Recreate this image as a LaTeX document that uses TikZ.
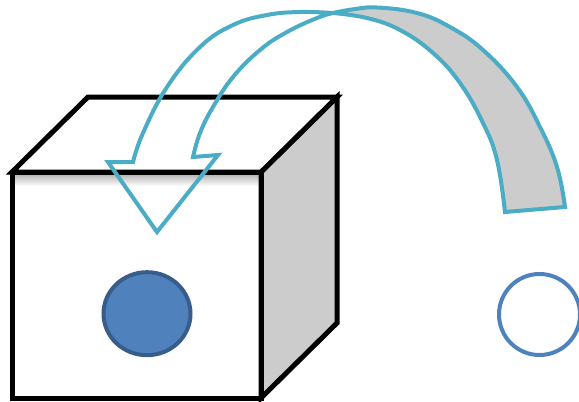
\documentclass[tikz,border=0pt]{standalone}
\definecolor{arrowblue}{HTML}{4BACC6}
\definecolor{dotblue}{HTML}{4F81BD}
\definecolor{dotedge}{HTML}{385D8A}
\definecolor{sidegray}{HTML}{CCCCCC}
\begin{document}
\begin{tikzpicture}[x=1pt,y=-1pt,
  edge/.style={draw=black,line width=5pt,line join=miter},
  arr/.style={draw=arrowblue,line width=4pt,line join=miter,miter limit=6},
  ring/.style={draw=dotblue,line width=4pt}]
\useasboundingbox (0,0) rectangle (579,402);
\clip (0,0) rectangle (579,402);
% cube corners
\coordinate (FTL) at (12,172);
\coordinate (FTR) at (261,172);
\coordinate (FBL) at (12,398);
\coordinate (FBR) at (261,398);
\coordinate (BTL) at (88,97);
\coordinate (BTR) at (337,97);
\coordinate (BBR) at (337,323);
% front face with soft shadow under the top edge
\fill[white] (FTL) rectangle (FBR);
\shade[top color=black!30, bottom color=white] (14,174) rectangle (259,186);
\draw[edge,fill=sidegray] (FTR) -- (BTR) -- (BBR) -- (FBR) -- cycle;
\draw[edge,fill=white] (FTL) -- (BTL) -- (BTR) -- (FTR) -- cycle;
\draw[edge] (FTL) rectangle (FBR);
% dots
\draw[line width=4pt,draw=dotedge,fill=dotblue] (147,313.7) ellipse [x radius=43.5pt, y radius=41.5pt];
\draw[ring] (539.5,314.5) circle [radius=40.5pt];
% curved arrow: back (gray) part
\draw[arr,fill=sidegray] plot[smooth,tension=0.7] coordinates {(333,13) (352,9.5) (377,7.5) (417,13) (450,27) (483,50) (517,87) (540,127) (557,167) (565,207)}
  -- plot[smooth,tension=0.7] coordinates {(505,212) (497,160) (483,123) (460,83) (433,53) (400,30) (367,18) (333,13)} -- cycle;
% curved arrow: front part with head
\draw[arr] plot[smooth,tension=0.7] coordinates {(333,13) (300,12) (267,15) (233,25) (200,47) (167,87) (143,133) (133,162)}
  -- (108,162) -- (157,232) -- (218,155) -- (193,157)
  -- plot[smooth,tension=0.7] coordinates {(193,157) (200,133) (213,107) (233,77) (260,50) (287,32) (317,18) (333,13)} -- cycle;
\end{tikzpicture}
\end{document}
